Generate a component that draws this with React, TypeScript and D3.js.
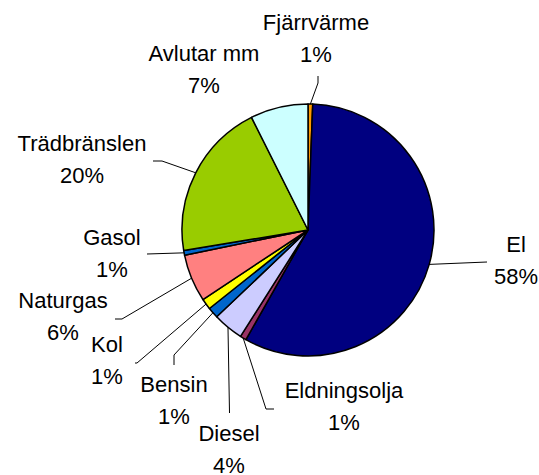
import * as d3 from "d3";
import React, { useRef, useEffect } from "react";

// energy use by source, share in percent
const sources = [
  "Fjärrvärme",
  "El",
  "Eldningsolja",
  "Diesel",
  "Bensin",
  "Kol",
  "Naturgas",
  "Gasol",
  "Trädbränslen",
  "Avlutar mm",
];
const shares = [0.6, 57.6, 0.8, 3.9, 1.4, 1.4, 6.1, 0.6, 20.2, 7.4];
const colors = [
  "#FF9900",
  "#000080",
  "#993366",
  "#CCCCFF",
  "#0066CC",
  "#FFFF00",
  "#FF8080",
  "#0066CC",
  "#99CC00",
  "#CCFFFF",
];

const width = 539;
const height = 475;
const cx = 308;
const cy = 230;
const radius = 126;

// label anchor (center x, first baseline) and leader points from label toward pie
const labelLayout: Record<string, { x: number; y: number; leader: number[][] }> = {
  "Fjärrvärme": { x: 316, y: 30, leader: [[318, 76], [318, 83]] },
  El: { x: 516, y: 252, leader: [[487, 262]] },
  Eldningsolja: { x: 344, y: 398, leader: [[274, 409], [266, 409]] },
  Diesel: { x: 229, y: 441, leader: [[229.5, 413]] },
  Bensin: { x: 174, y: 392, leader: [[174, 365], [174, 355]] },
  Kol: { x: 107, y: 352, leader: [[135, 363], [137, 363]] },
  Naturgas: { x: 63, y: 308, leader: [[115, 319], [122, 319]] },
  Gasol: { x: 112, y: 245, leader: [[147, 254]] },
  "Trädbränslen": { x: 82, y: 151, leader: [[153, 161], [162, 161]] },
  "Avlutar mm": { x: 204, y: 61, leader: [] },
};

function PieChart() {
  const ref = useRef<SVGSVGElement>(null);

  useEffect(() => {
    const svg = d3.select(ref.current);
    svg.selectAll("*").remove();

    const data = sources.map((s, i) => ({ name: s, value: shares[i], color: colors[i] }));
    const total = d3.sum(shares);

    const pie = d3
      .pie<any>()
      .sort(null)
      .value((d) => d.value);
    const arcs = pie(data);
    const arc = d3.arc<any>().innerRadius(0).outerRadius(radius);

    const g = svg.append("g").attr("transform", "translate(" + cx + "," + cy + ")");
    g.selectAll("path")
      .data(arcs)
      .enter()
      .append("path")
      .attr("d", arc)
      .attr("fill", (d) => d.data.color)
      .attr("stroke", "#000")
      .attr("stroke-width", 1.5)
      .attr("stroke-linejoin", "round");

    // leader lines
    const line = d3.line();
    arcs.forEach((d) => {
      const lay = labelLayout[d.data.name];
      if (!lay.leader.length) return;
      const a = (d.startAngle + d.endAngle) / 2;
      const edge: [number, number] = [cx + radius * Math.sin(a), cy - radius * Math.cos(a)];
      const pts = lay.leader.map((p) => [p[0], p[1]] as [number, number]).concat([edge]);
      svg
        .append("path")
        .attr("d", line(pts))
        .attr("fill", "none")
        .attr("stroke", "#000")
        .attr("stroke-width", 1);
    });

    // labels
    const fmt = d3.format(".0f");
    arcs.forEach((d) => {
      const lay = labelLayout[d.data.name];
      const t = svg
        .append("text")
        .attr("text-anchor", "middle")
        .attr("font-family", "'Liberation Sans', Arial, sans-serif")
        .attr("font-size", 22)
        .attr("fill", "#000");
      t.append("tspan").attr("x", lay.x).attr("y", lay.y).text(d.data.name);
      t.append("tspan")
        .attr("x", lay.x)
        .attr("y", lay.y + 32)
        .text(fmt(Math.max(1, (d.data.value / total) * 100)) + "%");
    });
  }, []);

  return (
    <svg
      ref={ref}
      width={width}
      height={height}
      style={{ position: "absolute", left: 0, top: 0, background: "#fff" }}
    ></svg>
  );
}

export default function App() {
  return <PieChart />;
}
